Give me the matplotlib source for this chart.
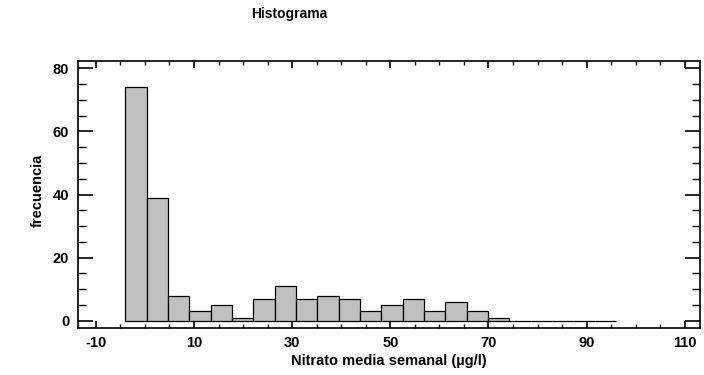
import matplotlib
matplotlib.use("Agg")
import matplotlib.pyplot as plt
import numpy as np
from matplotlib.ticker import MultipleLocator

plt.rcParams['font.family'] = ['Liberation Sans', 'DejaVu Sans']
plt.rcParams['axes.unicode_minus'] = False

counts = [74, 39, 8, 3, 5, 1, 7, 11, 7, 8, 7, 3, 5, 7, 3, 6, 3, 1, 0, 0, 0, 0, 0]
bin_lo = -4.0
bin_hi = 96.0
xticks = [-10, 10, 30, 50, 70, 90, 110]
yticks = [0, 20, 40, 60, 80]

edges = np.linspace(bin_lo, bin_hi, len(counts) + 1)
widths = np.diff(edges)

fig = plt.figure(figsize=(7.04, 3.75), dpi=100)
ax = fig.add_axes([77.7/704, 1 - 327.7/375, (700-77.7)/704, (327.7-60.7)/375])

ax.bar(edges[:-1], counts, width=widths, align='edge', color='#c0c0c0',
       edgecolor='black', linewidth=0.9)

ax.set_xlim(-13.7, 113.1)
ax.set_ylim(-2.2, 82.4)
ax.set_xticks(xticks)
ax.set_yticks(yticks)
ax.xaxis.set_minor_locator(MultipleLocator(5))
ax.yaxis.set_minor_locator(MultipleLocator(5))
ax.tick_params(axis='x', which='major', direction='in', length=5, width=1.2, top=True, bottom=True, pad=6)
ax.tick_params(axis='x', which='minor', direction='in', length=3, width=1.0, top=True, bottom=True)
ax.tick_params(axis='y', which='major', direction='in', length=11, width=1.2, left=True, right=True, pad=6)
ax.tick_params(axis='y', which='minor', direction='in', length=5.5, width=1.0, left=True, right=True)
for lab in ax.get_xticklabels() + ax.get_yticklabels():
    lab.set_fontweight('bold')
    lab.set_fontsize(10.5)
for s in ax.spines.values():
    s.set_linewidth(1.2)

fig.text(289/704, 1 - 14/375, 'Histograma', ha='center', va='center', fontsize=10, fontweight='bold')
fig.text(389/704, 1 - 361/375, 'Nitrato media semanal (µg/l)', ha='center', va='center', fontsize=10.5, fontweight='bold')
fig.text(38/704, 1 - 190/375, 'frecuencia', ha='center', va='center', rotation=90, fontsize=10.5, fontweight='bold')

fig.savefig('out.png', dpi=100)
